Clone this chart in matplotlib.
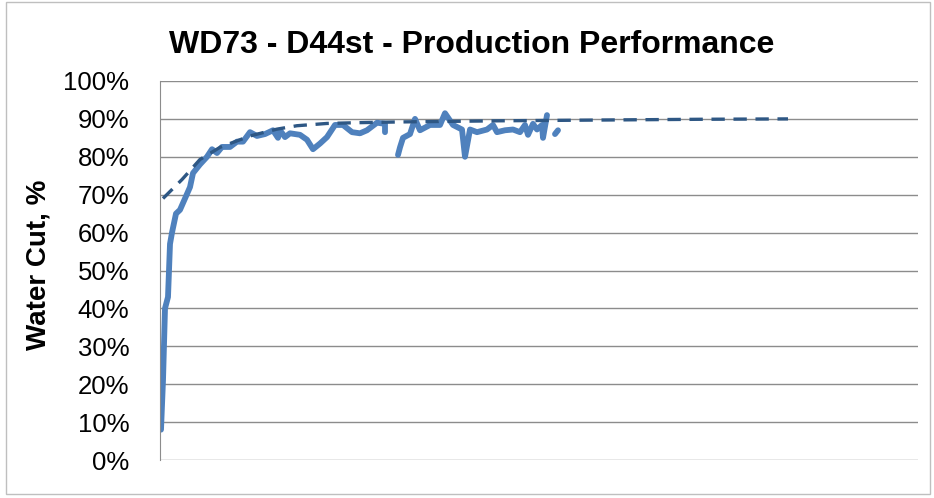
import numpy as np
import matplotlib
matplotlib.use("Agg")
import matplotlib.pyplot as plt
from matplotlib.ticker import PercentFormatter

# measured water cut (x = elapsed time units, y = %)
wc_x1 = [1, 3, 5, 8, 10, 12, 16, 20, 25, 30, 33, 40, 47, 52, 57, 62, 70, 77, 83,
         90, 97, 105, 113, 118, 120, 125, 130, 140, 147, 153, 160, 167, 175, 183,
         192, 200, 207, 217, 225, 225]
wc_y1 = [8, 21, 40, 43, 57, 60, 65, 66, 69, 72, 75.7, 78, 80, 82, 81, 82.6, 82.6,
         84, 84, 86.5, 85.5, 86, 87, 85, 87, 85.2, 86.2, 85.8, 84.5, 82, 83.5,
         85.2, 88.4, 88.4, 86.5, 86.2, 87, 89, 88.7, 86.5]
wc_x2 = [238, 240, 243, 250, 255, 260, 270, 280, 285, 293, 302, 305, 310, 317, 327,
         333, 337, 345, 353, 360, 365, 368, 373, 377, 382, 383, 387]
wc_y2 = [80.5, 82.5, 85, 86, 90, 87, 88.4, 88.4, 91.5, 88.4, 87.2, 80, 87.2, 86.5,
         87.2, 88.4, 86.5, 87, 87.2, 86.5, 88.4, 85.8, 88.7, 87.2, 88.4, 85,
         91]
wc_x3 = [395, 398]
wc_y3 = [86, 87]

# trend (dashed)
tr_x = [3, 22, 40, 60, 90, 117, 137, 167, 197, 240, 340, 440, 540, 628]
tr_y = [69, 74, 79.3, 82.5, 85.5, 87.3, 88.2, 88.8, 89, 89.2, 89.5, 89.7, 89.9, 90]

yticks = np.arange(0, 101, 10)

fig = plt.figure(figsize=(9.34, 4.98), dpi=100)
ax = fig.add_axes([160/934, 38/498, 758/934, 379/498])

line_c = "#4F81BD"
ax.plot(wc_x1, wc_y1, color=line_c, lw=4.2, solid_joinstyle="round", solid_capstyle="round")
ax.plot(wc_x2, wc_y2, color=line_c, lw=4.2, solid_joinstyle="round", solid_capstyle="round")
ax.plot(wc_x3, wc_y3, color=line_c, lw=4.2, solid_capstyle="round")
ax.plot(tr_x, tr_y, color="#2E5784", lw=2.4, ls=(0, (4, 2.6)))

ax.set_xlim(0, 758)
ax.set_ylim(0, 100)
ax.set_yticks(yticks)
ax.yaxis.set_major_formatter(PercentFormatter(decimals=0))
ax.set_xticks([])
ax.grid(axis="y", color="#8c8c8c", lw=1)
ax.set_axisbelow(True)
for s in ["top", "right", "bottom"]:
    ax.spines[s].set_visible(False)
ax.spines["left"].set_color("#8c8c8c")
ax.tick_params(axis="y", length=0, pad=22)
for t in ax.get_yticklabels():
    t.set_fontfamily(["Liberation Sans", "DejaVu Sans"])
    t.set_fontsize(18.5)

fig.text(472/934, 1 - 45/498, "WD73 - D44st - Production Performance",
         ha="center", va="center", fontsize=23, fontweight="bold",
         family=["Liberation Sans", "DejaVu Sans"])
fig.text(39/934, 1 - 265/498, "Water Cut, %", rotation=90, ha="center",
         va="center", fontsize=20, fontweight="bold",
         family=["Liberation Sans", "DejaVu Sans"])

# light chart border
fig.patches.append(plt.Rectangle((6/934, 4/498), 924/934, 492/498, transform=fig.transFigure,
                                 fill=False, edgecolor="#bfbfbf", lw=1))

fig.savefig("out.png", dpi=100)
